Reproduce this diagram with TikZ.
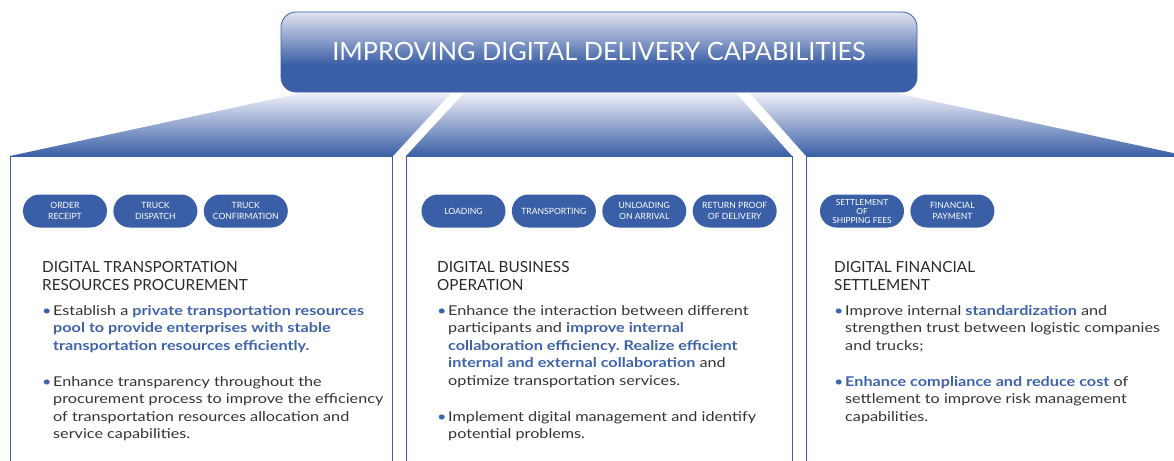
\documentclass[tikz,border=0pt]{standalone}
\usepackage{fontspec}
\setmainfont{Lato}
\newfontfamily\bodyfont{Lato}[FakeStretch=1.2]
\usetikzlibrary{positioning}
\definecolor{capblue}{HTML}{3A5FA6}
\definecolor{titletop}{HTML}{E2E2F1}
\definecolor{fantop}{HTML}{F2F2F9}
\definecolor{fanmid}{HTML}{8E96C8}
\definecolor{hlblue}{HTML}{3D63AA}
\definecolor{bodygray}{HTML}{333333}
\definecolor{headgray}{HTML}{2A2A2A}
\pgfdeclareverticalshading{capfade}{100bp}{color(0bp)=(capblue); color(25bp)=(capblue); color(42bp)=(capblue); color(75bp)=(titletop); color(100bp)=(titletop)}
\newcommand{\hl}[1]{\textcolor{hlblue}{\bfseries #1}}
\newcommand{\pointlist}[1]{\begin{tabular}[t]{@{}l@{}l@{}}\makebox[11pt][l]{\textcolor{hlblue}{\textbullet}} & #1\end{tabular}}
\newcommand{\headlines}[1]{\begin{tabular}[t]{@{}l@{}}#1\end{tabular}}
\frenchspacing

\begin{document}
\begin{tikzpicture}[x=1pt,y=-1pt,
    titlebox/.style={shade, shading=capfade, draw=capblue, line width=0.8pt, rounded corners=15pt, minimum width=636pt, minimum height=80pt, text=white, font=\fontsize{25.3}{30}\selectfont},
    pill/.style={fill=capblue, text=white, rounded corners=16.5pt, minimum width=84pt, minimum height=33pt, inner sep=0pt, align=center, font=\fontsize{8.6}{11.7}\selectfont},
    heading/.style={anchor=base west, inner sep=0pt, text=headgray, font=\fontsize{15.3}{18.3}\selectfont},
    point/.style={anchor=base west, inner sep=0pt, text=bodygray, font=\bodyfont\fontsize{13.5}{17.6}\selectfont},
    fan/.style={top color=fantop, middle color=fanmid, bottom color=capblue},
    panel/.style={draw=capblue, line width=0.9pt}]
    \useasboundingbox (0,0) rectangle (1174,460);
    % fans below the title
    \shade[fan] (306,92) -- (452,92) -- (393,156) -- (10,156) -- cycle;
    \shade[fan] (465,92) -- (735,92) -- (792,156) -- (406,156) -- cycle;
    \shade[fan] (749,92) -- (891,92) -- (1187,156) -- (806,156) -- cycle;
    % panels
    \draw[panel] (10,470) -- (10,156) -- (392,156) -- (392,470);
    \draw[panel] (406,470) -- (406,156) -- (792,156) -- (792,470);
    \draw[panel] (806,470) -- (806,156) -- (1190,156) -- (1190,470);
    \node[titlebox] (title) at (599,52) {\raisebox{1.5pt}{IMPROVING DIGITAL DELIVERY CAPABILITIES}};
    % procurement
    \node[pill] (order) at (65,211) {ORDER\\RECEIPT};
    \node[pill, right=6pt of order] (dispatch) {TRUCK\\DISPATCH};
    \node[pill, right=6pt of dispatch] (confirm) {TRUCK\\CONFIRMATION};
    \node[heading] (headA) at (42,272) {\headlines{DIGITAL TRANSPORTATION\\RESOURCES PROCUREMENT}};
    \node[point] (ptAa) at (42,315) {\pointlist{Establish a \hl{private transportation resources}\\
        & \hl{pool to provide enterprises with stable}\\
        & \hl{transportation resources efficiently.}}};
    \node[point] (ptAb) at (42,386) {\pointlist{Enhance transparency throughout the\\
        & procurement process to improve the efficiency\\
        & of transportation resources allocation and\\
        & service capabilities.}};
    % operation
    \node[pill] (loading) at (463.5,211) {LOADING};
    \node[pill, right=6pt of loading] (transport) {TRANSPORTING};
    \node[pill, right=6pt of transport] (unloading) {UNLOADING\\ON ARRIVAL};
    \node[pill, right=6pt of unloading] (proof) {RETURN PROOF\\OF DELIVERY};
    \node[heading] (headB) at (437,272) {\headlines{DIGITAL BUSINESS\\OPERATION}};
    \node[point] (ptBa) at (437,315) {\pointlist{Enhance the interaction between different\\
        & participants and \hl{improve internal}\\
        & \hl{collaboration efficiency. Realize efficient}\\
        & \hl{internal and external collaboration} and\\
        & optimize transportation services.}};
    \node[point] (ptBb) at (437,421) {\pointlist{Implement digital management and identify\\
        & potential problems.}};
    % settlement
    \node[pill, font=\fontsize{8.4}{9}\selectfont] (fees) at (862,211) {SETTLEMENT\\OF\\SHIPPING FEES};
    \node[pill, right=6pt of fees] (payment) {FINANCIAL\\PAYMENT};
    \node[heading] (headC) at (834,272) {\headlines{DIGITAL FINANCIAL\\SETTLEMENT}};
    \node[point] (ptCa) at (834,315) {\pointlist{Improve internal \hl{standardization} and\\
        & strengthen trust between logistic companies\\
        & and trucks;}};
    \node[point] (ptCb) at (834,386) {\pointlist{\hl{Enhance compliance and reduce cost} of\\
        & settlement to improve risk management\\
        & capabilities.}};
\end{tikzpicture}
\end{document}
